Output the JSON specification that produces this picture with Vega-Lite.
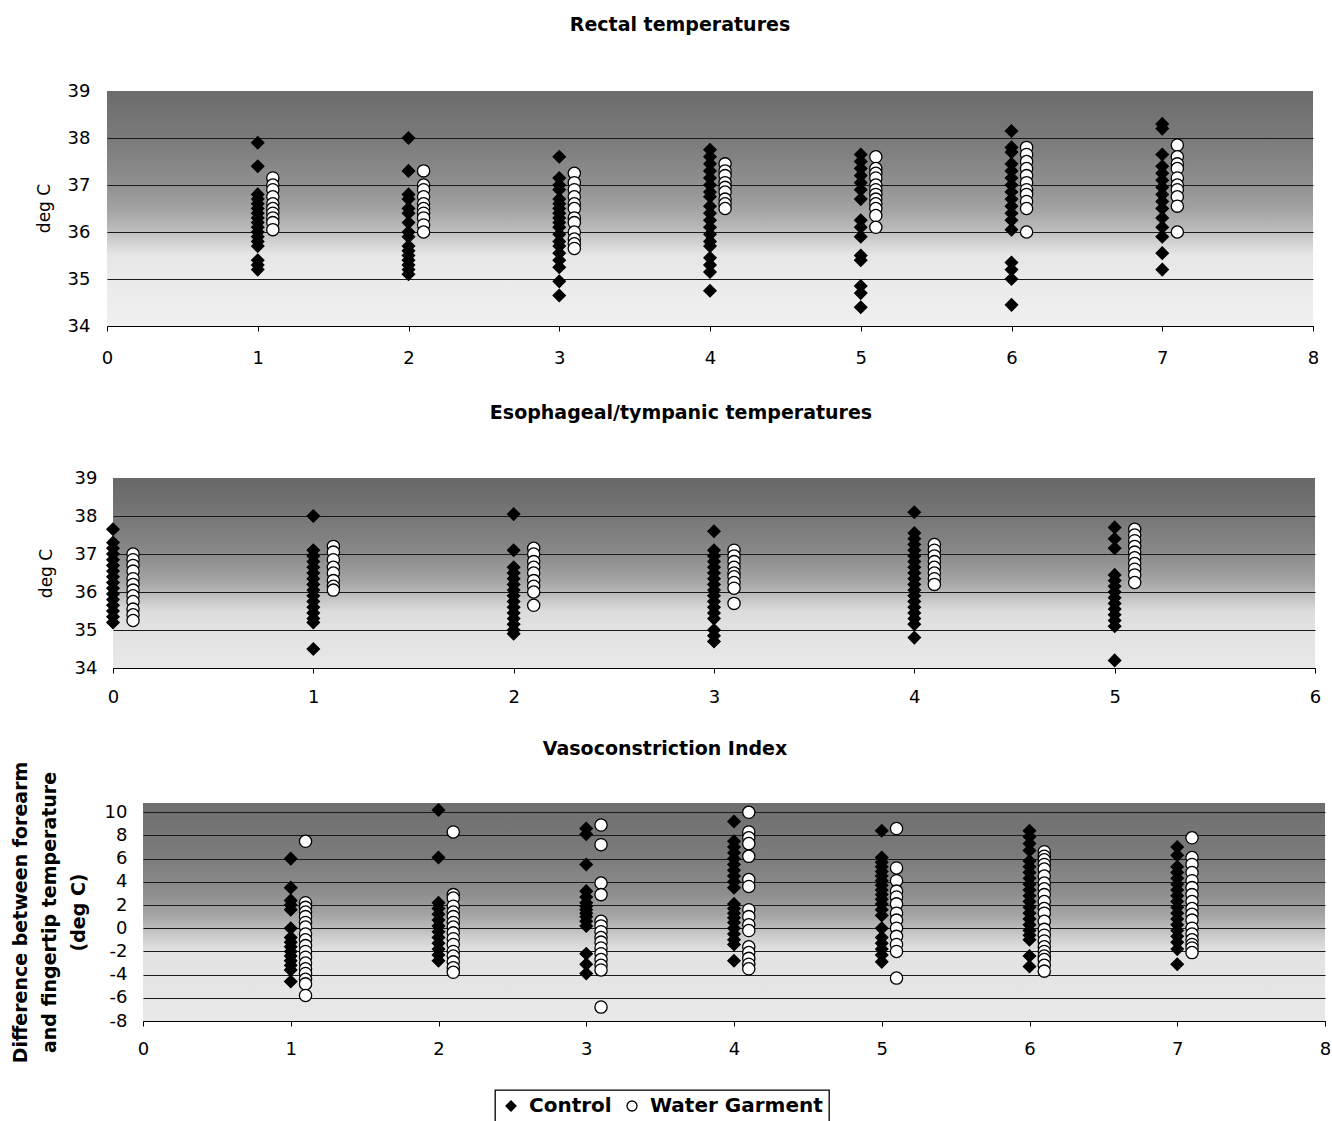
{
  "$schema": "https://vega.github.io/schema/vega-lite/v6.json",
  "padding": {"left": 3, "top": 16, "right": 0, "bottom": 0},
  "background": "white",
  "spacing": 34,
  "config": {
    "font": "DejaVu Sans",
    "view": {"stroke": null},
    "concat": {"spacing": 0},
    "title": {"font": "DejaVu Sans", "fontSize": 19, "fontWeight": "bold", "color": "black", "anchor": "middle", "baseline": "alphabetic"},
    "axis": {"labelFont": "DejaVu Sans", "labelFontSize": 18, "labelColor": "black", "titleFont": "DejaVu Sans", "titleColor": "black", "labelOverlap": false, "labelExpr": "'' + datum.value"},
    "legend": {"title": null, "orient": "none", "legendX": 492, "legendY": 999, "direction": "horizontal", "labelFont": "DejaVu Sans", "labelFontSize": 20, "labelFontWeight": "bold", "labelColor": "black", "labelLimit": 400, "symbolSize": 100, "symbolStrokeColor": "black", "symbolStrokeWidth": 1.3, "strokeColor": "black", "strokeWidth": 1.3, "fillColor": "white", "padding": 6, "columnPadding": 10, "labelOffset": 8}
  },
  "datasets": {
    "rectal": [
      {"t":1,"v":37.9,"g":"Control"},{"t":1,"v":37.4,"g":"Control"},{"t":1,"v":36.8,"g":"Control"},{"t":1,"v":36.7,"g":"Control"},{"t":1,"v":36.6,"g":"Control"},{"t":1,"v":36.5,"g":"Control"},{"t":1,"v":36.4,"g":"Control"},{"t":1,"v":36.3,"g":"Control"},{"t":1,"v":36.2,"g":"Control"},{"t":1,"v":36.1,"g":"Control"},{"t":1,"v":36.0,"g":"Control"},{"t":1,"v":35.9,"g":"Control"},{"t":1,"v":35.8,"g":"Control"},{"t":1,"v":35.7,"g":"Control"},{"t":1,"v":35.4,"g":"Control"},{"t":1,"v":35.3,"g":"Control"},{"t":1,"v":35.2,"g":"Control"},
      {"t":1.1,"v":37.15,"g":"Water Garment"},{"t":1.1,"v":37.0,"g":"Water Garment"},{"t":1.1,"v":36.9,"g":"Water Garment"},{"t":1.1,"v":36.75,"g":"Water Garment"},{"t":1.1,"v":36.6,"g":"Water Garment"},{"t":1.1,"v":36.5,"g":"Water Garment"},{"t":1.1,"v":36.4,"g":"Water Garment"},{"t":1.1,"v":36.3,"g":"Water Garment"},{"t":1.1,"v":36.2,"g":"Water Garment"},{"t":1.1,"v":36.05,"g":"Water Garment"},
      {"t":2,"v":38.0,"g":"Control"},{"t":2,"v":37.3,"g":"Control"},{"t":2,"v":36.8,"g":"Control"},{"t":2,"v":36.7,"g":"Control"},{"t":2,"v":36.5,"g":"Control"},{"t":2,"v":36.4,"g":"Control"},{"t":2,"v":36.2,"g":"Control"},{"t":2,"v":36.0,"g":"Control"},{"t":2,"v":35.9,"g":"Control"},{"t":2,"v":35.7,"g":"Control"},{"t":2,"v":35.6,"g":"Control"},{"t":2,"v":35.5,"g":"Control"},{"t":2,"v":35.4,"g":"Control"},{"t":2,"v":35.3,"g":"Control"},{"t":2,"v":35.2,"g":"Control"},{"t":2,"v":35.1,"g":"Control"},
      {"t":2.1,"v":37.3,"g":"Water Garment"},{"t":2.1,"v":37.0,"g":"Water Garment"},{"t":2.1,"v":36.9,"g":"Water Garment"},{"t":2.1,"v":36.75,"g":"Water Garment"},{"t":2.1,"v":36.6,"g":"Water Garment"},{"t":2.1,"v":36.5,"g":"Water Garment"},{"t":2.1,"v":36.4,"g":"Water Garment"},{"t":2.1,"v":36.3,"g":"Water Garment"},{"t":2.1,"v":36.15,"g":"Water Garment"},{"t":2.1,"v":36.0,"g":"Water Garment"},
      {"t":3,"v":37.6,"g":"Control"},{"t":3,"v":37.15,"g":"Control"},{"t":3,"v":37.0,"g":"Control"},{"t":3,"v":36.9,"g":"Control"},{"t":3,"v":36.7,"g":"Control"},{"t":3,"v":36.6,"g":"Control"},{"t":3,"v":36.5,"g":"Control"},{"t":3,"v":36.4,"g":"Control"},{"t":3,"v":36.3,"g":"Control"},{"t":3,"v":36.2,"g":"Control"},{"t":3,"v":36.1,"g":"Control"},{"t":3,"v":35.95,"g":"Control"},{"t":3,"v":35.8,"g":"Control"},{"t":3,"v":35.7,"g":"Control"},{"t":3,"v":35.55,"g":"Control"},{"t":3,"v":35.4,"g":"Control"},{"t":3,"v":35.25,"g":"Control"},{"t":3,"v":34.95,"g":"Control"},{"t":3,"v":34.65,"g":"Control"},
      {"t":3.1,"v":37.25,"g":"Water Garment"},{"t":3.1,"v":37.05,"g":"Water Garment"},{"t":3.1,"v":36.9,"g":"Water Garment"},{"t":3.1,"v":36.75,"g":"Water Garment"},{"t":3.1,"v":36.6,"g":"Water Garment"},{"t":3.1,"v":36.5,"g":"Water Garment"},{"t":3.1,"v":36.3,"g":"Water Garment"},{"t":3.1,"v":36.2,"g":"Water Garment"},{"t":3.1,"v":36.0,"g":"Water Garment"},{"t":3.1,"v":35.85,"g":"Water Garment"},{"t":3.1,"v":35.75,"g":"Water Garment"},{"t":3.1,"v":35.65,"g":"Water Garment"},
      {"t":4,"v":37.75,"g":"Control"},{"t":4,"v":37.6,"g":"Control"},{"t":4,"v":37.45,"g":"Control"},{"t":4,"v":37.3,"g":"Control"},{"t":4,"v":37.15,"g":"Control"},{"t":4,"v":37.0,"g":"Control"},{"t":4,"v":36.85,"g":"Control"},{"t":4,"v":36.75,"g":"Control"},{"t":4,"v":36.55,"g":"Control"},{"t":4,"v":36.4,"g":"Control"},{"t":4,"v":36.25,"g":"Control"},{"t":4,"v":36.1,"g":"Control"},{"t":4,"v":35.95,"g":"Control"},{"t":4,"v":35.8,"g":"Control"},{"t":4,"v":35.7,"g":"Control"},{"t":4,"v":35.45,"g":"Control"},{"t":4,"v":35.3,"g":"Control"},{"t":4,"v":35.15,"g":"Control"},{"t":4,"v":34.75,"g":"Control"},
      {"t":4.1,"v":37.45,"g":"Water Garment"},{"t":4.1,"v":37.3,"g":"Water Garment"},{"t":4.1,"v":37.2,"g":"Water Garment"},{"t":4.1,"v":37.05,"g":"Water Garment"},{"t":4.1,"v":36.95,"g":"Water Garment"},{"t":4.1,"v":36.85,"g":"Water Garment"},{"t":4.1,"v":36.7,"g":"Water Garment"},{"t":4.1,"v":36.6,"g":"Water Garment"},{"t":4.1,"v":36.5,"g":"Water Garment"},
      {"t":5,"v":37.65,"g":"Control"},{"t":5,"v":37.5,"g":"Control"},{"t":5,"v":37.35,"g":"Control"},{"t":5,"v":37.2,"g":"Control"},{"t":5,"v":37.05,"g":"Control"},{"t":5,"v":36.9,"g":"Control"},{"t":5,"v":36.7,"g":"Control"},{"t":5,"v":36.25,"g":"Control"},{"t":5,"v":36.1,"g":"Control"},{"t":5,"v":35.9,"g":"Control"},{"t":5,"v":35.5,"g":"Control"},{"t":5,"v":35.4,"g":"Control"},{"t":5,"v":34.85,"g":"Control"},{"t":5,"v":34.7,"g":"Control"},{"t":5,"v":34.4,"g":"Control"},
      {"t":5.1,"v":37.6,"g":"Water Garment"},{"t":5.1,"v":37.35,"g":"Water Garment"},{"t":5.1,"v":37.25,"g":"Water Garment"},{"t":5.1,"v":37.15,"g":"Water Garment"},{"t":5.1,"v":37.0,"g":"Water Garment"},{"t":5.1,"v":36.9,"g":"Water Garment"},{"t":5.1,"v":36.8,"g":"Water Garment"},{"t":5.1,"v":36.7,"g":"Water Garment"},{"t":5.1,"v":36.6,"g":"Water Garment"},{"t":5.1,"v":36.5,"g":"Water Garment"},{"t":5.1,"v":36.35,"g":"Water Garment"},{"t":5.1,"v":36.1,"g":"Water Garment"},
      {"t":6,"v":38.15,"g":"Control"},{"t":6,"v":37.8,"g":"Control"},{"t":6,"v":37.7,"g":"Control"},{"t":6,"v":37.45,"g":"Control"},{"t":6,"v":37.3,"g":"Control"},{"t":6,"v":37.15,"g":"Control"},{"t":6,"v":37.0,"g":"Control"},{"t":6,"v":36.85,"g":"Control"},{"t":6,"v":36.7,"g":"Control"},{"t":6,"v":36.55,"g":"Control"},{"t":6,"v":36.4,"g":"Control"},{"t":6,"v":36.25,"g":"Control"},{"t":6,"v":36.05,"g":"Control"},{"t":6,"v":35.35,"g":"Control"},{"t":6,"v":35.2,"g":"Control"},{"t":6,"v":35.0,"g":"Control"},{"t":6,"v":34.45,"g":"Control"},
      {"t":6.1,"v":37.8,"g":"Water Garment"},{"t":6.1,"v":37.65,"g":"Water Garment"},{"t":6.1,"v":37.5,"g":"Water Garment"},{"t":6.1,"v":37.35,"g":"Water Garment"},{"t":6.1,"v":37.2,"g":"Water Garment"},{"t":6.1,"v":37.05,"g":"Water Garment"},{"t":6.1,"v":36.9,"g":"Water Garment"},{"t":6.1,"v":36.8,"g":"Water Garment"},{"t":6.1,"v":36.65,"g":"Water Garment"},{"t":6.1,"v":36.5,"g":"Water Garment"},{"t":6.1,"v":36.0,"g":"Water Garment"},
      {"t":7,"v":38.3,"g":"Control"},{"t":7,"v":38.2,"g":"Control"},{"t":7,"v":37.65,"g":"Control"},{"t":7,"v":37.4,"g":"Control"},{"t":7,"v":37.25,"g":"Control"},{"t":7,"v":37.1,"g":"Control"},{"t":7,"v":36.95,"g":"Control"},{"t":7,"v":36.8,"g":"Control"},{"t":7,"v":36.65,"g":"Control"},{"t":7,"v":36.5,"g":"Control"},{"t":7,"v":36.3,"g":"Control"},{"t":7,"v":36.1,"g":"Control"},{"t":7,"v":35.9,"g":"Control"},{"t":7,"v":35.55,"g":"Control"},{"t":7,"v":35.2,"g":"Control"},
      {"t":7.1,"v":37.85,"g":"Water Garment"},{"t":7.1,"v":37.6,"g":"Water Garment"},{"t":7.1,"v":37.45,"g":"Water Garment"},{"t":7.1,"v":37.35,"g":"Water Garment"},{"t":7.1,"v":37.15,"g":"Water Garment"},{"t":7.1,"v":37.0,"g":"Water Garment"},{"t":7.1,"v":36.9,"g":"Water Garment"},{"t":7.1,"v":36.75,"g":"Water Garment"},{"t":7.1,"v":36.55,"g":"Water Garment"},{"t":7.1,"v":36.0,"g":"Water Garment"}
    ],
    "eso": [
      {"t":0,"v":37.65,"g":"Control"},{"t":0,"v":37.3,"g":"Control"},{"t":0,"v":37.15,"g":"Control"},{"t":0,"v":37.0,"g":"Control"},{"t":0,"v":36.85,"g":"Control"},{"t":0,"v":36.7,"g":"Control"},{"t":0,"v":36.55,"g":"Control"},{"t":0,"v":36.4,"g":"Control"},{"t":0,"v":36.25,"g":"Control"},{"t":0,"v":36.1,"g":"Control"},{"t":0,"v":35.95,"g":"Control"},{"t":0,"v":35.8,"g":"Control"},{"t":0,"v":35.65,"g":"Control"},{"t":0,"v":35.5,"g":"Control"},{"t":0,"v":35.35,"g":"Control"},{"t":0,"v":35.2,"g":"Control"},
      {"t":0.1,"v":37.0,"g":"Water Garment"},{"t":0.1,"v":36.85,"g":"Water Garment"},{"t":0.1,"v":36.7,"g":"Water Garment"},{"t":0.1,"v":36.55,"g":"Water Garment"},{"t":0.1,"v":36.35,"g":"Water Garment"},{"t":0.1,"v":36.2,"g":"Water Garment"},{"t":0.1,"v":36.05,"g":"Water Garment"},{"t":0.1,"v":35.9,"g":"Water Garment"},{"t":0.1,"v":35.75,"g":"Water Garment"},{"t":0.1,"v":35.55,"g":"Water Garment"},{"t":0.1,"v":35.4,"g":"Water Garment"},{"t":0.1,"v":35.25,"g":"Water Garment"},
      {"t":1,"v":38.0,"g":"Control"},{"t":1,"v":37.1,"g":"Control"},{"t":1,"v":36.95,"g":"Control"},{"t":1,"v":36.8,"g":"Control"},{"t":1,"v":36.65,"g":"Control"},{"t":1,"v":36.5,"g":"Control"},{"t":1,"v":36.35,"g":"Control"},{"t":1,"v":36.2,"g":"Control"},{"t":1,"v":36.05,"g":"Control"},{"t":1,"v":35.9,"g":"Control"},{"t":1,"v":35.75,"g":"Control"},{"t":1,"v":35.6,"g":"Control"},{"t":1,"v":35.45,"g":"Control"},{"t":1,"v":35.3,"g":"Control"},{"t":1,"v":35.2,"g":"Control"},{"t":1,"v":34.5,"g":"Control"},
      {"t":1.1,"v":37.2,"g":"Water Garment"},{"t":1.1,"v":37.05,"g":"Water Garment"},{"t":1.1,"v":36.85,"g":"Water Garment"},{"t":1.1,"v":36.65,"g":"Water Garment"},{"t":1.1,"v":36.5,"g":"Water Garment"},{"t":1.1,"v":36.3,"g":"Water Garment"},{"t":1.1,"v":36.15,"g":"Water Garment"},{"t":1.1,"v":36.05,"g":"Water Garment"},
      {"t":2,"v":38.05,"g":"Control"},{"t":2,"v":37.1,"g":"Control"},{"t":2,"v":36.65,"g":"Control"},{"t":2,"v":36.5,"g":"Control"},{"t":2,"v":36.35,"g":"Control"},{"t":2,"v":36.2,"g":"Control"},{"t":2,"v":36.05,"g":"Control"},{"t":2,"v":35.9,"g":"Control"},{"t":2,"v":35.75,"g":"Control"},{"t":2,"v":35.6,"g":"Control"},{"t":2,"v":35.45,"g":"Control"},{"t":2,"v":35.3,"g":"Control"},{"t":2,"v":35.15,"g":"Control"},{"t":2,"v":35.0,"g":"Control"},{"t":2,"v":34.9,"g":"Control"},
      {"t":2.1,"v":37.15,"g":"Water Garment"},{"t":2.1,"v":37.0,"g":"Water Garment"},{"t":2.1,"v":36.8,"g":"Water Garment"},{"t":2.1,"v":36.65,"g":"Water Garment"},{"t":2.1,"v":36.5,"g":"Water Garment"},{"t":2.1,"v":36.3,"g":"Water Garment"},{"t":2.1,"v":36.15,"g":"Water Garment"},{"t":2.1,"v":36.0,"g":"Water Garment"},{"t":2.1,"v":35.65,"g":"Water Garment"},
      {"t":3,"v":37.6,"g":"Control"},{"t":3,"v":37.1,"g":"Control"},{"t":3,"v":36.95,"g":"Control"},{"t":3,"v":36.8,"g":"Control"},{"t":3,"v":36.65,"g":"Control"},{"t":3,"v":36.5,"g":"Control"},{"t":3,"v":36.35,"g":"Control"},{"t":3,"v":36.2,"g":"Control"},{"t":3,"v":36.05,"g":"Control"},{"t":3,"v":35.9,"g":"Control"},{"t":3,"v":35.75,"g":"Control"},{"t":3,"v":35.6,"g":"Control"},{"t":3,"v":35.45,"g":"Control"},{"t":3,"v":35.3,"g":"Control"},{"t":3,"v":35.0,"g":"Control"},{"t":3,"v":34.85,"g":"Control"},{"t":3,"v":34.7,"g":"Control"},
      {"t":3.1,"v":37.1,"g":"Water Garment"},{"t":3.1,"v":36.95,"g":"Water Garment"},{"t":3.1,"v":36.8,"g":"Water Garment"},{"t":3.1,"v":36.65,"g":"Water Garment"},{"t":3.1,"v":36.5,"g":"Water Garment"},{"t":3.1,"v":36.4,"g":"Water Garment"},{"t":3.1,"v":36.25,"g":"Water Garment"},{"t":3.1,"v":36.1,"g":"Water Garment"},{"t":3.1,"v":35.7,"g":"Water Garment"},
      {"t":4,"v":38.1,"g":"Control"},{"t":4,"v":37.55,"g":"Control"},{"t":4,"v":37.4,"g":"Control"},{"t":4,"v":37.25,"g":"Control"},{"t":4,"v":37.1,"g":"Control"},{"t":4,"v":36.95,"g":"Control"},{"t":4,"v":36.8,"g":"Control"},{"t":4,"v":36.65,"g":"Control"},{"t":4,"v":36.5,"g":"Control"},{"t":4,"v":36.35,"g":"Control"},{"t":4,"v":36.2,"g":"Control"},{"t":4,"v":36.05,"g":"Control"},{"t":4,"v":35.9,"g":"Control"},{"t":4,"v":35.75,"g":"Control"},{"t":4,"v":35.6,"g":"Control"},{"t":4,"v":35.45,"g":"Control"},{"t":4,"v":35.3,"g":"Control"},{"t":4,"v":35.15,"g":"Control"},{"t":4,"v":34.8,"g":"Control"},
      {"t":4.1,"v":37.25,"g":"Water Garment"},{"t":4.1,"v":37.1,"g":"Water Garment"},{"t":4.1,"v":36.95,"g":"Water Garment"},{"t":4.1,"v":36.8,"g":"Water Garment"},{"t":4.1,"v":36.65,"g":"Water Garment"},{"t":4.1,"v":36.5,"g":"Water Garment"},{"t":4.1,"v":36.35,"g":"Water Garment"},{"t":4.1,"v":36.2,"g":"Water Garment"},
      {"t":5,"v":37.7,"g":"Control"},{"t":5,"v":37.4,"g":"Control"},{"t":5,"v":37.15,"g":"Control"},{"t":5,"v":36.45,"g":"Control"},{"t":5,"v":36.3,"g":"Control"},{"t":5,"v":36.15,"g":"Control"},{"t":5,"v":36.0,"g":"Control"},{"t":5,"v":35.85,"g":"Control"},{"t":5,"v":35.7,"g":"Control"},{"t":5,"v":35.55,"g":"Control"},{"t":5,"v":35.4,"g":"Control"},{"t":5,"v":35.25,"g":"Control"},{"t":5,"v":35.1,"g":"Control"},{"t":5,"v":34.2,"g":"Control"},
      {"t":5.1,"v":37.65,"g":"Water Garment"},{"t":5.1,"v":37.5,"g":"Water Garment"},{"t":5.1,"v":37.35,"g":"Water Garment"},{"t":5.1,"v":37.2,"g":"Water Garment"},{"t":5.1,"v":37.05,"g":"Water Garment"},{"t":5.1,"v":36.9,"g":"Water Garment"},{"t":5.1,"v":36.75,"g":"Water Garment"},{"t":5.1,"v":36.6,"g":"Water Garment"},{"t":5.1,"v":36.45,"g":"Water Garment"},{"t":5.1,"v":36.25,"g":"Water Garment"}
    ],
    "vaso": [
      {"t":1,"v":6.0,"g":"Control"},{"t":1,"v":3.5,"g":"Control"},{"t":1,"v":2.4,"g":"Control"},{"t":1,"v":2.0,"g":"Control"},{"t":1,"v":1.6,"g":"Control"},{"t":1,"v":0.0,"g":"Control"},{"t":1,"v":-0.8,"g":"Control"},{"t":1,"v":-1.2,"g":"Control"},{"t":1,"v":-1.6,"g":"Control"},{"t":1,"v":-2.0,"g":"Control"},{"t":1,"v":-2.4,"g":"Control"},{"t":1,"v":-2.8,"g":"Control"},{"t":1,"v":-3.2,"g":"Control"},{"t":1,"v":-3.6,"g":"Control"},{"t":1,"v":-4.6,"g":"Control"},
      {"t":1.1,"v":7.5,"g":"Water Garment"},{"t":1.1,"v":2.2,"g":"Water Garment"},{"t":1.1,"v":1.8,"g":"Water Garment"},{"t":1.1,"v":1.4,"g":"Water Garment"},{"t":1.1,"v":1.0,"g":"Water Garment"},{"t":1.1,"v":0.5,"g":"Water Garment"},{"t":1.1,"v":0.1,"g":"Water Garment"},{"t":1.1,"v":-0.5,"g":"Water Garment"},{"t":1.1,"v":-1.0,"g":"Water Garment"},{"t":1.1,"v":-1.5,"g":"Water Garment"},{"t":1.1,"v":-2.0,"g":"Water Garment"},{"t":1.1,"v":-2.5,"g":"Water Garment"},{"t":1.1,"v":-3.0,"g":"Water Garment"},{"t":1.1,"v":-3.5,"g":"Water Garment"},{"t":1.1,"v":-3.9,"g":"Water Garment"},{"t":1.1,"v":-4.4,"g":"Water Garment"},{"t":1.1,"v":-4.8,"g":"Water Garment"},{"t":1.1,"v":-5.8,"g":"Water Garment"},
      {"t":2,"v":10.2,"g":"Control"},{"t":2,"v":6.1,"g":"Control"},{"t":2,"v":2.2,"g":"Control"},{"t":2,"v":1.7,"g":"Control"},{"t":2,"v":1.2,"g":"Control"},{"t":2,"v":0.7,"g":"Control"},{"t":2,"v":0.2,"g":"Control"},{"t":2,"v":-0.3,"g":"Control"},{"t":2,"v":-0.8,"g":"Control"},{"t":2,"v":-1.3,"g":"Control"},{"t":2,"v":-1.8,"g":"Control"},{"t":2,"v":-2.3,"g":"Control"},{"t":2,"v":-2.8,"g":"Control"},
      {"t":2.1,"v":8.3,"g":"Water Garment"},{"t":2.1,"v":2.9,"g":"Water Garment"},{"t":2.1,"v":2.6,"g":"Water Garment"},{"t":2.1,"v":1.9,"g":"Water Garment"},{"t":2.1,"v":1.4,"g":"Water Garment"},{"t":2.1,"v":1.0,"g":"Water Garment"},{"t":2.1,"v":0.5,"g":"Water Garment"},{"t":2.1,"v":0.1,"g":"Water Garment"},{"t":2.1,"v":-0.4,"g":"Water Garment"},{"t":2.1,"v":-0.9,"g":"Water Garment"},{"t":2.1,"v":-1.4,"g":"Water Garment"},{"t":2.1,"v":-2.0,"g":"Water Garment"},{"t":2.1,"v":-2.4,"g":"Water Garment"},{"t":2.1,"v":-2.9,"g":"Water Garment"},{"t":2.1,"v":-3.4,"g":"Water Garment"},{"t":2.1,"v":-3.8,"g":"Water Garment"},
      {"t":3,"v":8.6,"g":"Control"},{"t":3,"v":8.1,"g":"Control"},{"t":3,"v":5.5,"g":"Control"},{"t":3,"v":3.2,"g":"Control"},{"t":3,"v":2.7,"g":"Control"},{"t":3,"v":2.2,"g":"Control"},{"t":3,"v":1.9,"g":"Control"},{"t":3,"v":1.6,"g":"Control"},{"t":3,"v":1.3,"g":"Control"},{"t":3,"v":1.0,"g":"Control"},{"t":3,"v":0.6,"g":"Control"},{"t":3,"v":0.2,"g":"Control"},{"t":3,"v":-2.2,"g":"Control"},{"t":3,"v":-3.1,"g":"Control"},{"t":3,"v":-3.9,"g":"Control"},
      {"t":3.1,"v":8.9,"g":"Water Garment"},{"t":3.1,"v":7.2,"g":"Water Garment"},{"t":3.1,"v":3.9,"g":"Water Garment"},{"t":3.1,"v":2.9,"g":"Water Garment"},{"t":3.1,"v":0.6,"g":"Water Garment"},{"t":3.1,"v":0.2,"g":"Water Garment"},{"t":3.1,"v":-0.3,"g":"Water Garment"},{"t":3.1,"v":-0.8,"g":"Water Garment"},{"t":3.1,"v":-1.2,"g":"Water Garment"},{"t":3.1,"v":-1.7,"g":"Water Garment"},{"t":3.1,"v":-2.2,"g":"Water Garment"},{"t":3.1,"v":-2.7,"g":"Water Garment"},{"t":3.1,"v":-3.2,"g":"Water Garment"},{"t":3.1,"v":-3.6,"g":"Water Garment"},{"t":3.1,"v":-6.8,"g":"Water Garment"},
      {"t":4,"v":9.2,"g":"Control"},{"t":4,"v":7.5,"g":"Control"},{"t":4,"v":7.0,"g":"Control"},{"t":4,"v":6.5,"g":"Control"},{"t":4,"v":6.0,"g":"Control"},{"t":4,"v":5.5,"g":"Control"},{"t":4,"v":5.0,"g":"Control"},{"t":4,"v":4.5,"g":"Control"},{"t":4,"v":4.0,"g":"Control"},{"t":4,"v":3.5,"g":"Control"},{"t":4,"v":2.1,"g":"Control"},{"t":4,"v":1.7,"g":"Control"},{"t":4,"v":1.3,"g":"Control"},{"t":4,"v":0.9,"g":"Control"},{"t":4,"v":0.5,"g":"Control"},{"t":4,"v":0.0,"g":"Control"},{"t":4,"v":-0.5,"g":"Control"},{"t":4,"v":-1.0,"g":"Control"},{"t":4,"v":-1.4,"g":"Control"},{"t":4,"v":-2.8,"g":"Control"},
      {"t":4.1,"v":10.0,"g":"Water Garment"},{"t":4.1,"v":8.3,"g":"Water Garment"},{"t":4.1,"v":7.8,"g":"Water Garment"},{"t":4.1,"v":7.3,"g":"Water Garment"},{"t":4.1,"v":6.2,"g":"Water Garment"},{"t":4.1,"v":4.2,"g":"Water Garment"},{"t":4.1,"v":3.6,"g":"Water Garment"},{"t":4.1,"v":1.6,"g":"Water Garment"},{"t":4.1,"v":1.0,"g":"Water Garment"},{"t":4.1,"v":0.3,"g":"Water Garment"},{"t":4.1,"v":-0.2,"g":"Water Garment"},{"t":4.1,"v":-1.6,"g":"Water Garment"},{"t":4.1,"v":-2.1,"g":"Water Garment"},{"t":4.1,"v":-2.6,"g":"Water Garment"},{"t":4.1,"v":-3.1,"g":"Water Garment"},{"t":4.1,"v":-3.5,"g":"Water Garment"},
      {"t":5,"v":8.4,"g":"Control"},{"t":5,"v":6.1,"g":"Control"},{"t":5,"v":5.7,"g":"Control"},{"t":5,"v":5.3,"g":"Control"},{"t":5,"v":4.9,"g":"Control"},{"t":5,"v":4.5,"g":"Control"},{"t":5,"v":4.1,"g":"Control"},{"t":5,"v":3.7,"g":"Control"},{"t":5,"v":3.3,"g":"Control"},{"t":5,"v":2.9,"g":"Control"},{"t":5,"v":2.5,"g":"Control"},{"t":5,"v":2.1,"g":"Control"},{"t":5,"v":1.6,"g":"Control"},{"t":5,"v":1.1,"g":"Control"},{"t":5,"v":0.0,"g":"Control"},{"t":5,"v":-0.8,"g":"Control"},{"t":5,"v":-1.3,"g":"Control"},{"t":5,"v":-1.8,"g":"Control"},{"t":5,"v":-2.3,"g":"Control"},{"t":5,"v":-2.9,"g":"Control"},
      {"t":5.1,"v":8.6,"g":"Water Garment"},{"t":5.1,"v":5.2,"g":"Water Garment"},{"t":5.1,"v":4.1,"g":"Water Garment"},{"t":5.1,"v":3.2,"g":"Water Garment"},{"t":5.1,"v":2.7,"g":"Water Garment"},{"t":5.1,"v":2.1,"g":"Water Garment"},{"t":5.1,"v":1.3,"g":"Water Garment"},{"t":5.1,"v":0.7,"g":"Water Garment"},{"t":5.1,"v":0.0,"g":"Water Garment"},{"t":5.1,"v":-0.7,"g":"Water Garment"},{"t":5.1,"v":-1.4,"g":"Water Garment"},{"t":5.1,"v":-2.0,"g":"Water Garment"},{"t":5.1,"v":-4.3,"g":"Water Garment"},
      {"t":6,"v":8.4,"g":"Control"},{"t":6,"v":7.9,"g":"Control"},{"t":6,"v":7.3,"g":"Control"},{"t":6,"v":6.7,"g":"Control"},{"t":6,"v":5.8,"g":"Control"},{"t":6,"v":5.3,"g":"Control"},{"t":6,"v":4.8,"g":"Control"},{"t":6,"v":4.3,"g":"Control"},{"t":6,"v":3.8,"g":"Control"},{"t":6,"v":3.3,"g":"Control"},{"t":6,"v":2.8,"g":"Control"},{"t":6,"v":2.3,"g":"Control"},{"t":6,"v":1.8,"g":"Control"},{"t":6,"v":1.3,"g":"Control"},{"t":6,"v":0.8,"g":"Control"},{"t":6,"v":0.3,"g":"Control"},{"t":6,"v":-0.2,"g":"Control"},{"t":6,"v":-0.6,"g":"Control"},{"t":6,"v":-1.0,"g":"Control"},{"t":6,"v":-2.4,"g":"Control"},{"t":6,"v":-3.3,"g":"Control"},
      {"t":6.1,"v":6.6,"g":"Water Garment"},{"t":6.1,"v":6.2,"g":"Water Garment"},{"t":6.1,"v":5.9,"g":"Water Garment"},{"t":6.1,"v":5.5,"g":"Water Garment"},{"t":6.1,"v":5.1,"g":"Water Garment"},{"t":6.1,"v":4.5,"g":"Water Garment"},{"t":6.1,"v":3.9,"g":"Water Garment"},{"t":6.1,"v":3.4,"g":"Water Garment"},{"t":6.1,"v":2.9,"g":"Water Garment"},{"t":6.1,"v":2.3,"g":"Water Garment"},{"t":6.1,"v":1.7,"g":"Water Garment"},{"t":6.1,"v":1.3,"g":"Water Garment"},{"t":6.1,"v":0.6,"g":"Water Garment"},{"t":6.1,"v":-0.1,"g":"Water Garment"},{"t":6.1,"v":-0.6,"g":"Water Garment"},{"t":6.1,"v":-1.1,"g":"Water Garment"},{"t":6.1,"v":-1.6,"g":"Water Garment"},{"t":6.1,"v":-2.0,"g":"Water Garment"},{"t":6.1,"v":-2.4,"g":"Water Garment"},{"t":6.1,"v":-2.7,"g":"Water Garment"},{"t":6.1,"v":-3.2,"g":"Water Garment"},{"t":6.1,"v":-3.7,"g":"Water Garment"},
      {"t":7,"v":7.0,"g":"Control"},{"t":7,"v":6.3,"g":"Control"},{"t":7,"v":5.3,"g":"Control"},{"t":7,"v":4.8,"g":"Control"},{"t":7,"v":4.3,"g":"Control"},{"t":7,"v":3.8,"g":"Control"},{"t":7,"v":3.3,"g":"Control"},{"t":7,"v":2.8,"g":"Control"},{"t":7,"v":2.3,"g":"Control"},{"t":7,"v":1.8,"g":"Control"},{"t":7,"v":1.3,"g":"Control"},{"t":7,"v":0.8,"g":"Control"},{"t":7,"v":0.3,"g":"Control"},{"t":7,"v":-0.2,"g":"Control"},{"t":7,"v":-0.7,"g":"Control"},{"t":7,"v":-1.2,"g":"Control"},{"t":7,"v":-1.8,"g":"Control"},{"t":7,"v":-3.1,"g":"Control"},
      {"t":7.1,"v":7.8,"g":"Water Garment"},{"t":7.1,"v":6.1,"g":"Water Garment"},{"t":7.1,"v":5.5,"g":"Water Garment"},{"t":7.1,"v":4.8,"g":"Water Garment"},{"t":7.1,"v":4.1,"g":"Water Garment"},{"t":7.1,"v":3.5,"g":"Water Garment"},{"t":7.1,"v":2.9,"g":"Water Garment"},{"t":7.1,"v":2.3,"g":"Water Garment"},{"t":7.1,"v":1.7,"g":"Water Garment"},{"t":7.1,"v":1.2,"g":"Water Garment"},{"t":7.1,"v":0.7,"g":"Water Garment"},{"t":7.1,"v":0.0,"g":"Water Garment"},{"t":7.1,"v":-0.5,"g":"Water Garment"},{"t":7.1,"v":-1.0,"g":"Water Garment"},{"t":7.1,"v":-1.4,"g":"Water Garment"},{"t":7.1,"v":-1.7,"g":"Water Garment"},{"t":7.1,"v":-2.1,"g":"Water Garment"}
    ]
  },
  "vconcat": [
    {"spacing": 0, "hconcat": [
      {"width": 1, "height": 10, "data": {"values": []}, "mark": "point", "encoding": {}},
      {
      "width": 1206, "height": 235,
      "title": {"text": "Rectal temperatures", "offset": 47, "dx": -30},
      "view": {"stroke": null, "fill": {"gradient": "linear", "x1": 0, "y1": 0, "x2": 0, "y2": 1, "stops": [
        {"offset": 0, "color": "#6c6c6c"}, {"offset": 0.2, "color": "#7a7a7a"}, {"offset": 0.38, "color": "#8e8e8e"},
        {"offset": 0.5, "color": "#a2a2a2"}, {"offset": 0.58, "color": "#b8b8b8"}, {"offset": 0.64, "color": "#d0d0d0"},
        {"offset": 0.7, "color": "#e6e6e6"}, {"offset": 0.8, "color": "#eaeaea"}, {"offset": 1, "color": "#f0f0f0"}]}},
      "data": {"name": "rectal"},
      "mark": {"type": "point", "filled": true, "opacity": 1, "size": 150, "strokeWidth": 1.3},
      "encoding": {
        "x": {"field": "t", "type": "quantitative", "scale": {"domain": [0, 8], "nice": false, "zero": false},
          "axis": {"title": null, "values": [0,1,2,3,4,5,6,7,8], "grid": false, "domainColor": "black", "tickColor": "black", "tickSize": 5, "labelPadding": 18, "labelFlush": false, "minExtent": 44}},
        "y": {"field": "v", "type": "quantitative", "scale": {"domain": [34, 39], "nice": false, "zero": false},
          "axis": {"title": "deg C", "titleFontSize": 17, "titleFontWeight": "normal", "titleX": -54, "titleY": 117, "titleAngle": 270, "titleBaseline": "bottom", "titleAlign": "center",
            "values": [34,35,36,37,38,39], "domain": false, "ticks": false, "labelPadding": 17, "minExtent": 103,
            "grid": true, "gridColor": {"condition": {"test": "datum.value === 39", "value": "transparent"}, "value": "#1a1a1a"}, "gridWidth": 1, "gridOpacity": 1}},
        "shape": {"field": "g", "type": "nominal", "scale": {"domain": ["Control", "Water Garment"], "range": ["diamond", "circle"]}},
        "fill": {"field": "g", "type": "nominal", "scale": {"domain": ["Control", "Water Garment"], "range": ["black", "white"]}},
        "stroke": {"field": "g", "type": "nominal", "scale": {"domain": ["Control", "Water Garment"], "range": ["black", "black"]}}
      }
    }]},
    {"spacing": 0, "hconcat": [
      {"width": 1, "height": 10, "data": {"values": []}, "mark": "point", "encoding": {}},
      {
      "width": 1202, "height": 190,
      "title": {"text": "Esophageal/tympanic temperatures", "offset": 46, "dx": -33},
      "view": {"stroke": null, "fill": {"gradient": "linear", "x1": 0, "y1": 0, "x2": 0, "y2": 1, "stops": [
        {"offset": 0, "color": "#686868"}, {"offset": 0.2, "color": "#767676"}, {"offset": 0.4, "color": "#8a8a8a"},
        {"offset": 0.55, "color": "#a6a6a6"}, {"offset": 0.63, "color": "#c2c2c2"}, {"offset": 0.7, "color": "#dcdcdc"},
        {"offset": 0.8, "color": "#e2e2e2"}, {"offset": 1, "color": "#e8e8e8"}]}},
      "data": {"name": "eso"},
      "mark": {"type": "point", "filled": true, "opacity": 1, "size": 150, "strokeWidth": 1.3},
      "encoding": {
        "x": {"field": "t", "type": "quantitative", "scale": {"domain": [0, 6], "nice": false, "zero": false},
          "axis": {"title": null, "values": [0,1,2,3,4,5,6], "grid": false, "domainColor": "black", "tickColor": "black", "tickSize": 5, "labelPadding": 15, "labelFlush": false, "minExtent": 37}},
        "y": {"field": "v", "type": "quantitative", "scale": {"domain": [34, 39], "nice": false, "zero": false},
          "axis": {"title": "deg C", "titleFontSize": 17, "titleFontWeight": "normal", "titleX": -58, "titleY": 95, "titleAngle": 270, "titleBaseline": "bottom", "titleAlign": "center",
            "values": [34,35,36,37,38,39], "domain": false, "ticks": false, "labelPadding": 16, "minExtent": 109,
            "grid": true, "gridColor": {"condition": {"test": "datum.value === 39", "value": "transparent"}, "value": "#1a1a1a"}, "gridWidth": 1, "gridOpacity": 1}},
        "shape": {"field": "g", "type": "nominal", "scale": {"domain": ["Control", "Water Garment"], "range": ["diamond", "circle"]}},
        "fill": {"field": "g", "type": "nominal", "scale": {"domain": ["Control", "Water Garment"], "range": ["black", "white"]}},
        "stroke": {"field": "g", "type": "nominal", "scale": {"domain": ["Control", "Water Garment"], "range": ["black", "black"]}}
      }
    }]},
    {"spacing": 0, "hconcat": [
      {"width": 1, "height": 10, "data": {"values": []}, "mark": "point", "encoding": {}},
      {
      "width": 1182, "height": 218,
      "title": {"text": "Vasoconstriction Index", "offset": 2, "dx": -69},
      "view": {"stroke": null, "fill": {"gradient": "linear", "x1": 0, "y1": 0, "x2": 0, "y2": 1, "stops": [
        {"offset": 0, "color": "#6e6e6e"}, {"offset": 0.255, "color": "#7c7c7c"}, {"offset": 0.415, "color": "#8e8e8e"},
        {"offset": 0.52, "color": "#a6a6a6"}, {"offset": 0.574, "color": "#bcbcbc"}, {"offset": 0.628, "color": "#d2d2d2"},
        {"offset": 0.68, "color": "#e2e2e2"}, {"offset": 1, "color": "#e8e8e8"}]}},
      "data": {"name": "vaso"},
      "mark": {"type": "point", "filled": true, "opacity": 1, "size": 150, "strokeWidth": 1.3},
      "encoding": {
        "x": {"field": "t", "type": "quantitative", "scale": {"domain": [0, 8], "nice": false, "zero": false},
          "axis": {"title": null, "values": [0,1,2,3,4,5,6,7,8], "grid": false, "domainColor": "black", "tickColor": "black", "tickSize": 5, "labelPadding": 14, "labelFlush": false}},
        "y": {"field": "v", "type": "quantitative", "scale": {"domain": [-8, 10.8], "nice": false, "zero": false},
          "axis": {"title": ["Difference between forearm", "and fingertip temperature", "(deg C)"], "titleFontSize": 19, "titleFontWeight": "bold", "titleLineHeight": 29, "titleX": -113, "titleY": 109, "titleAngle": 270, "titleBaseline": "bottom", "titleAlign": "center",
            "values": [-8,-6,-4,-2,0,2,4,6,8,10], "domain": false, "ticks": false, "labelPadding": 16, "minExtent": 139,
            "grid": true, "gridColor": "#1a1a1a", "gridWidth": 1, "gridOpacity": 1}},
        "shape": {"field": "g", "type": "nominal", "scale": {"domain": ["Control", "Water Garment"], "range": ["diamond", "circle"]}},
        "fill": {"field": "g", "type": "nominal", "scale": {"domain": ["Control", "Water Garment"], "range": ["black", "white"]}},
        "stroke": {"field": "g", "type": "nominal", "scale": {"domain": ["Control", "Water Garment"], "range": ["black", "black"]}}
      }
    }]}
  ]
}
